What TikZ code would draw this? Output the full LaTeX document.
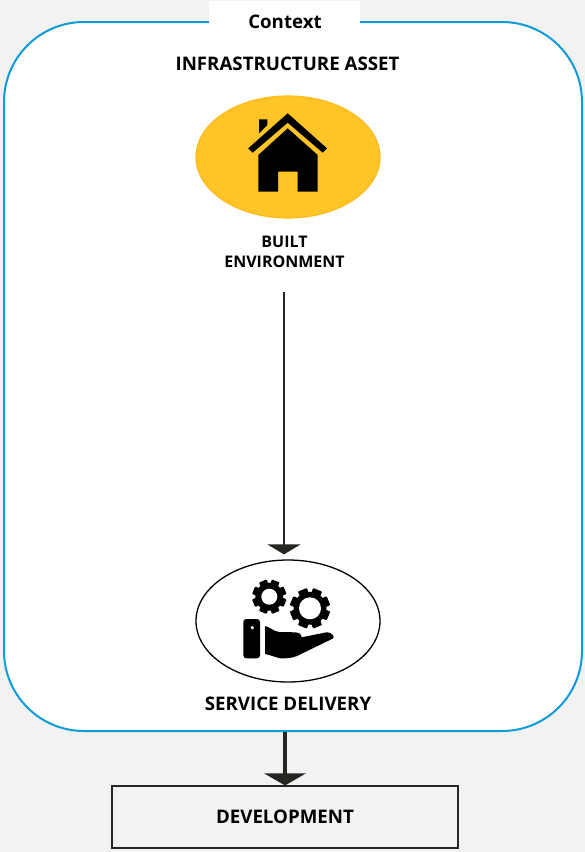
\documentclass[tikz,border=0pt]{standalone}
\usepackage{fontspec}
\setmainfont{Open Sans}
\usetikzlibrary{positioning,shapes.geometric,arrows.meta,calc}
\definecolor{pagegrey}{HTML}{F2F2F2}
\definecolor{frameblue}{HTML}{0E9BD8}
\definecolor{houseyellow}{HTML}{FFC425}
\definecolor{arrowdark}{HTML}{262522}
\tikzset{
  oval/.style={ellipse,draw,inner sep=0pt,minimum width=184pt,minimum height=122pt},
  heading/.style={font=\bfseries\fontsize{#1}{#1}\selectfont,inner sep=0pt,align=center,text=black},
  heading/.default=18.7pt
}
% one gear: centre, outer radius, hole radius
\newcommand{\geartool}[3]{
  \foreach \a in {0,45,...,135}
    \fill[rotate around={\a+22.5:(#1)},rounded corners=0.8pt] ($(#1)+(-0.24*#2,-#2)$) rectangle ($(#1)+(0.24*#2,#2)$);
  \fill (#1) circle[radius=0.82*#2];
  \fill[white] (#1) circle[radius=#3];
}
\begin{document}
\begin{tikzpicture}[x=1pt,y=-1pt]
\fill[pagegrey,use as bounding box] (0,0) rectangle (585,852);

\node (asset) [draw=frameblue,fill=white,line width=2pt,rounded corners=80pt,minimum width=578pt,minimum height=709pt,inner sep=0pt] at (293,376.5) {};
\node (contextbox) [fill=white,minimum width=151pt,minimum height=23pt,inner sep=0pt] at (284.5,12.5) {};
\node (context) [heading] at (285,21.8) {Context};
\node (assetlabel) [heading] at (287.5,64) {INFRASTRUCTURE ASSET};

\node (built) [oval,draw=houseyellow!85!orange,fill=houseyellow,line width=1.2pt] at (288,157) {};
\node (builtlabel) [heading=16pt] at (284.5,251.7) {BUILT\\[4.2pt]ENVIRONMENT};
\coordinate (builtend) at (284,292);

\node (service) [oval,draw=black,fill=white,line width=1.3pt] at (288,621) {};
\node (servicelabel) [heading,below=14pt of service] {SERVICE DELIVERY};

\node (development) [draw=arrowdark,line width=1.6pt,minimum width=346pt,minimum height=61.5pt,inner sep=0pt,heading] at (285,817) {DEVELOPMENT};

% house
\fill (287.7,113.3) -- (327,148.3) -- (322.7,152.7) -- (287.7,122.7) -- (252.7,152.7) -- (248.3,148.3) -- cycle;
\fill (259,119.3) -- (267.3,119.3) -- (267.3,125) -- (259,133.3) -- cycle;
\fill (287.7,128.3) -- (317.7,155) -- (317.7,191.7) -- (297.7,191.7) -- (297.7,171.7) -- (278,171.7) -- (278,191.7) -- (258.3,191.7) -- (258.3,155) -- cycle;

% hand and gears
\geartool{269.3,596.7}{17}{8}
\geartool{310,608.3}{20}{11}
\fill[rounded corners=3pt] (243.3,619) rectangle (260,658.3);
\fill[white] (252.3,627.7) circle[radius=1.8];
\fill (265,626) .. controls (270,627) and (273,631) .. (279,632) -- (295,632.3) .. controls (300,632.5) and (302,635) .. (301.7,637.3) -- (326.7,632.3) .. controls (331,632) and (335,636) .. (333.3,638.3) -- (297,656) .. controls (291,658.5) and (285,658.5) .. (280,658.3) .. controls (275,657) and (270,655) .. (265,654) -- cycle;

\draw[-{Triangle[width=33pt,length=10pt]},arrowdark,line width=2.8pt,shorten >=5pt] (builtend) -- (builtend |- service.north);
\draw[-{Triangle[width=41pt,length=12pt]},arrowdark,line width=4pt] (development.north |- asset.south) -- (development.north);
\end{tikzpicture}
\end{document}
